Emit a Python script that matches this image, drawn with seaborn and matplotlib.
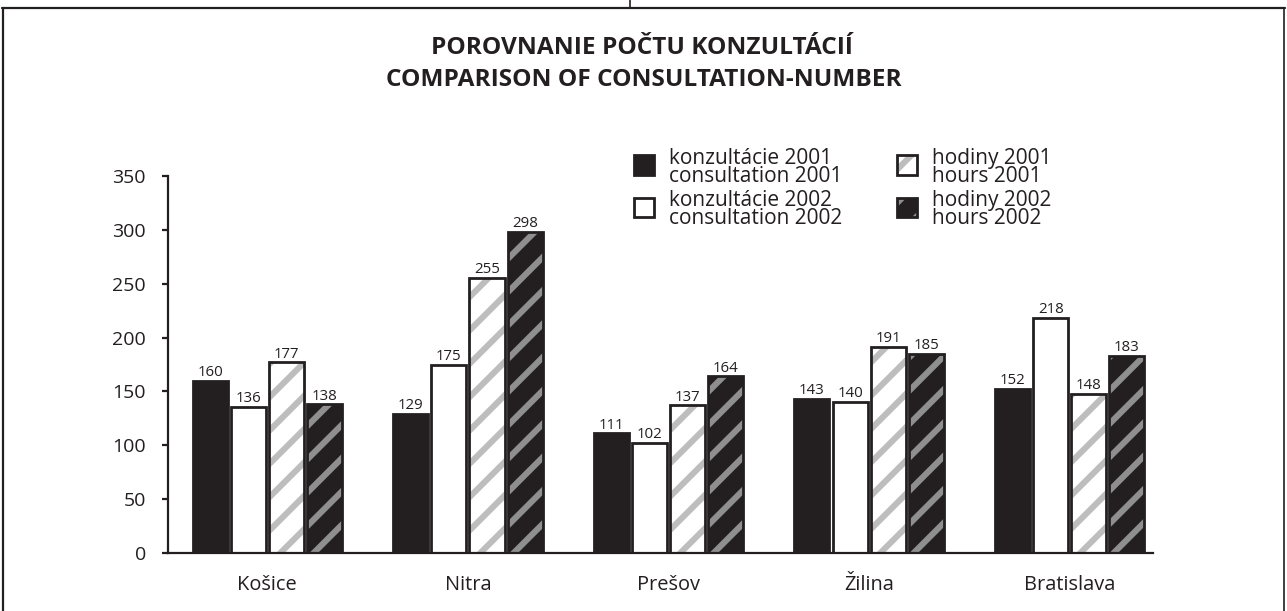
import numpy as np
import pandas as pd
import seaborn as sns
import matplotlib.pyplot as plt
from matplotlib.patches import Patch, Rectangle
from matplotlib.lines import Line2D
from matplotlib.legend_handler import HandlerPatch

# values
cities = ["Košice", "Nitra", "Prešov", "Žilina", "Bratislava"]
consult_2001 = [160, 129, 111, 143, 152]
consult_2002 = [136, 175, 102, 140, 218]
hours_2001 = [177, 255, 137, 191, 148]
hours_2002 = [138, 298, 164, 185, 183]
series_labels = [
    "konzultácie 2001\nconsultation 2001",
    "konzultácie 2002\nconsultation 2002",
    "hodiny 2001\nhours 2001",
    "hodiny 2002\nhours 2002",
]
y_ticks = [0, 50, 100, 150, 200, 250, 300, 350]

# long table for seaborn
df = pd.DataFrame({
    "city": cities * 4,
    "series": np.repeat(series_labels, len(cities)),
    "value": consult_2001 + consult_2002 + hours_2001 + hours_2002,
})

BLACK = "#231f20"
face = [BLACK, "white", "white", BLACK]
stripe = [None, None, "#bdbdbd", "#8f8f8f"]

sns.set_style("ticks")
plt.rcParams["font.family"] = ["Open Sans", "DejaVu Sans"]
plt.rcParams["hatch.linewidth"] = 2.2

W, H = 1287, 611
fig = plt.figure(figsize=(W / 200, H / 200), dpi=200)
ax = fig.add_axes([168 / W, 58 / H, 985 / W, 377 / H])

sns.barplot(
    data=df, x="city", y="value", hue="series", hue_order=series_labels,
    palette=dict(zip(series_labels, face)), width=0.76, gap=0.08,
    edgecolor=BLACK, linewidth=1.0, saturation=1, legend=False, ax=ax,
)

# striped "hours" bars: gray hatch + separate black outline
for i in (2, 3):
    for p in ax.containers[i]:
        p.set_hatch("//")
        p.set_edgecolor(stripe[i])
        p.set_linewidth(0)
        ax.add_patch(Rectangle(p.get_xy(), p.get_width(), p.get_height(),
                               fill=False, edgecolor=BLACK, linewidth=1.0))

for c in ax.containers:
    ax.bar_label(c, fontsize=5.4, padding=0.3, color=BLACK)

ax.set_xlim(-0.495, 4.415)
ax.set_ylim(0, 350)
ax.set_yticks(y_ticks)
ax.set_xlabel("")
ax.set_ylabel("")
sns.despine(ax=ax)
for s in ("left", "bottom"):
    ax.spines[s].set_linewidth(0.8)
    ax.spines[s].set_color(BLACK)
ax.tick_params(axis="y", labelsize=7, length=2, width=0.8, color=BLACK,
               labelcolor=BLACK, pad=6)
ax.tick_params(axis="x", labelsize=7.2, length=0, labelcolor=BLACK, pad=8)


# legend keys sit at the top of the two-line label
def top_square(legend, orig_handle, xdescent, ydescent, width, height, fontsize):
    return Rectangle((-xdescent, -ydescent + height - width), width, width)


handles = [
    Patch(facecolor=face[0], edgecolor=BLACK, linewidth=1.0),
    Patch(facecolor=face[1], edgecolor=BLACK, linewidth=1.0),
    (Patch(facecolor=face[2], hatch="//", edgecolor=stripe[2], linewidth=0),
     Patch(fill=False, edgecolor=BLACK, linewidth=1.0)),
    (Patch(facecolor=face[3], hatch="//", edgecolor=stripe[3], linewidth=0),
     Patch(fill=False, edgecolor=BLACK, linewidth=1.0)),
]
leg = fig.legend(handles, series_labels, loc="upper left",
                 bbox_to_anchor=(634 / W, 1 - 148 / H), ncol=2, frameon=False,
                 fontsize=7.5, handlelength=0.95, handleheight=1.6,
                 handletextpad=0.75, columnspacing=2.6, labelspacing=0.15,
                 borderpad=0, borderaxespad=0,
                 handler_map={Patch: HandlerPatch(patch_func=top_square)})
for t in leg.get_texts():
    t.set_linespacing(0.82)
    t.set_color(BLACK)

# title
fig.text(642 / W, 1 - 48 / H, "POROVNANIE POČTU KONZULTÁCIÍ", ha="center",
         va="center", fontsize=8.8, fontweight="bold", color=BLACK)
fig.text(644 / W, 1 - 80 / H, "COMPARISON OF CONSULTATION-NUMBER", ha="center",
         va="center", fontsize=8.8, fontweight="bold", color=BLACK)

# page frame
top = 1 - 8 / H
fig.add_artist(Line2D([2 / W, 1285 / W], [top, top], transform=fig.transFigure,
                      color=BLACK, lw=0.8))
fig.add_artist(Line2D([3 / W, 3 / W], [0, top], transform=fig.transFigure,
                      color=BLACK, lw=0.8))
fig.add_artist(Line2D([1284 / W, 1284 / W], [0, top], transform=fig.transFigure,
                      color=BLACK, lw=0.6))
fig.add_artist(Line2D([630 / W, 630 / W], [top, 1], transform=fig.transFigure,
                      color=BLACK, lw=0.6))

fig.savefig("out.png", dpi=200)
